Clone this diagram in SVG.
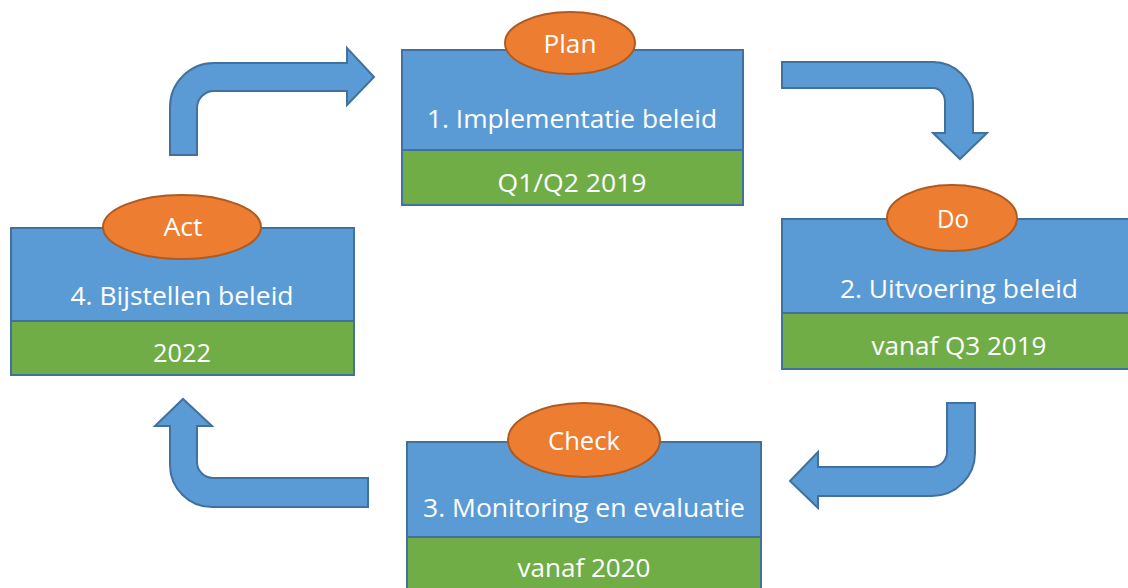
<svg xmlns="http://www.w3.org/2000/svg" width="1128" height="588" viewBox="0 0 1128 588">
<style>
.bg{fill:#ffffff}
.blue{fill:#5B9BD5;stroke:#41719C;stroke-width:2}
.green{fill:#70AD47;stroke:#41719C;stroke-width:2}
.oval{fill:#ED7D31;stroke:#AE5A21;stroke-width:2}
.arrow{fill:#5B9BD5;stroke:#41719C;stroke-width:2;stroke-linejoin:miter}
text{font-family:"Open Sans","Noto Sans","Liberation Sans",sans-serif;font-size:25.5px;fill:#ffffff;text-anchor:middle}
</style>
<rect class="bg" x="0" y="0" width="1128" height="588"/>
<g id="connectors">
<path class="arrow" d="M170,155 L170,107 A44,44 0 0 1 214,63 L347,63 L347,48 L374,77 L347,105 L347,91 L214,91 A17,17 0 0 0 197,108 L197,155 Z"/>
<path class="arrow" d="M782,62 L933,62 A40,40 0 0 1 973,102 L973,133 L987,133 L960,159 L933,133 L945,133 L945,102 A12,14 0 0 0 933,88 L782,88 Z"/>
<path class="arrow" d="M947,403 L975,403 L975,453 A43,43 0 0 1 932,496 L818,496 L818,508 L790,481 L818,452 L818,467 L932,467 A15,15 0 0 0 947,452 Z"/>
<path class="arrow" d="M368,478 L213,478 A16,16 0 0 1 197,462 L197,426 L212,426 L183,399 L155,426 L170,426 L170,465 A42,42 0 0 0 212,507 L368,507 Z"/>
</g>
<g id="node-plan">
<rect class="blue" x="402" y="50" width="341" height="100"/>
<rect class="green" x="402" y="150" width="341" height="55"/>
<ellipse class="oval" cx="570" cy="43" rx="65" ry="31"/>
<text x="570" y="53" textLength="53" lengthAdjust="spacingAndGlyphs">Plan</text>
<text x="572" y="128" textLength="290" lengthAdjust="spacingAndGlyphs">1. Implementatie beleid</text>
<text x="572" y="192" textLength="149" lengthAdjust="spacingAndGlyphs">Q1/Q2 2019</text>
</g>
<g id="node-do">
<rect class="blue" x="782" y="219" width="354" height="94"/>
<rect class="green" x="782" y="313" width="354" height="56"/>
<ellipse class="oval" cx="952" cy="218" rx="65" ry="33"/>
<text x="953" y="228" textLength="32" lengthAdjust="spacingAndGlyphs">Do</text>
<text x="959" y="298" textLength="238" lengthAdjust="spacingAndGlyphs">2. Uitvoering beleid</text>
<text x="959" y="355" textLength="175" lengthAdjust="spacingAndGlyphs">vanaf Q3 2019</text>
</g>
<g id="node-check">
<rect class="blue" x="407" y="442" width="354" height="95"/>
<rect class="green" x="407" y="537" width="354" height="60"/>
<ellipse class="oval" cx="584" cy="440" rx="76" ry="37"/>
<text x="584" y="450" textLength="72" lengthAdjust="spacingAndGlyphs">Check</text>
<text x="584" y="517" textLength="322" lengthAdjust="spacingAndGlyphs">3. Monitoring en evaluatie</text>
<text x="584" y="577" textLength="133" lengthAdjust="spacingAndGlyphs">vanaf 2020</text>
</g>
<g id="node-act">
<rect class="blue" x="11" y="228" width="343" height="93"/>
<rect class="green" x="11" y="321" width="343" height="54"/>
<ellipse class="oval" cx="182" cy="227" rx="79" ry="32"/>
<text x="183" y="236" textLength="39" lengthAdjust="spacingAndGlyphs">Act</text>
<text x="182" y="305" textLength="223" lengthAdjust="spacingAndGlyphs">4. Bijstellen beleid</text>
<text x="182" y="362" textLength="58" lengthAdjust="spacingAndGlyphs">2022</text>
</g>
</svg>
